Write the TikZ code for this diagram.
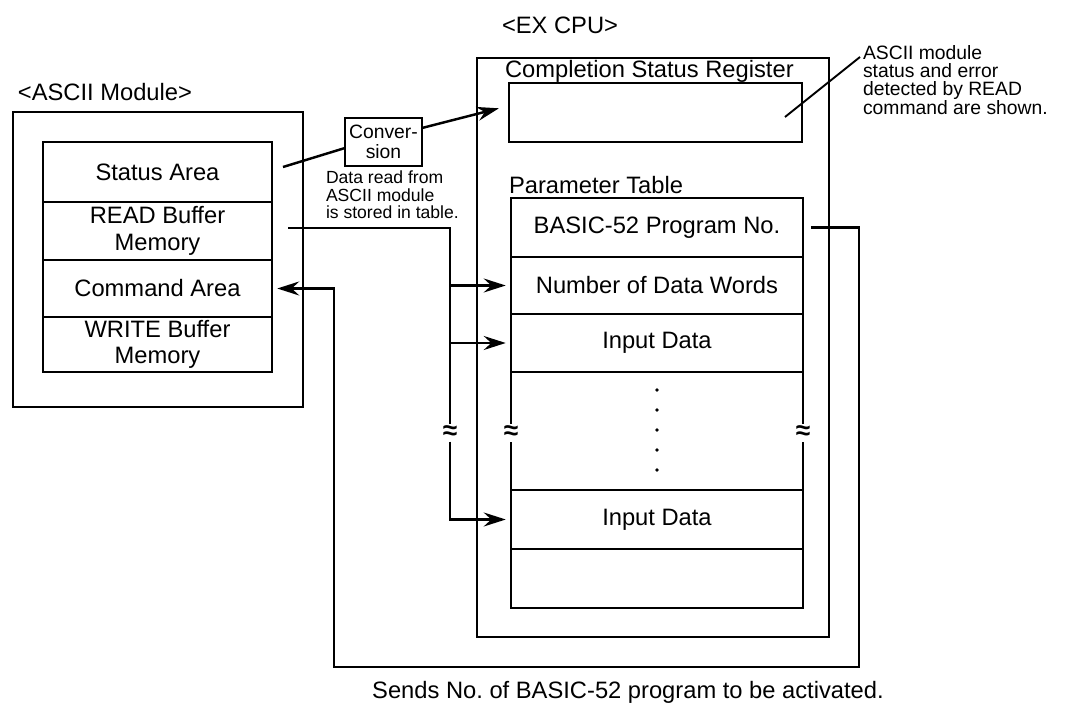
\documentclass[tikz,border=0pt]{standalone}
\usepackage{fontspec}
\setmainfont{Liberation Sans}
\usetikzlibrary{arrows.meta, positioning}
\frenchspacing

\begin{document}
\begin{tikzpicture}[
  x=0.02cm, y=-0.02cm,
  font=\fontsize{13.5}{15}\selectfont,
  every node/.style={inner sep=0pt, outer sep=0pt},
  frame/.style={draw, line width=1.5pt, anchor=north west},
  cell/.style={draw, line width=1.4pt, anchor=north west, align=center},
  conn/.style={line width=1.4pt},
  arr/.style={conn, shorten >=3pt, -{Stealth[length=4.4mm, width=2.8mm, inset=1.5mm]}},
  wave/.style={fill=white, inner sep=1pt, font=\bfseries\fontsize{15}{15}\selectfont},
  note/.style={align=left, anchor=north west},
]
\useasboundingbox (0,0) rectangle (1070,709);

% Titles
\node (asciiT) at (105,92) {<ASCII Module>};
\node (cpuT) at (560,25) {<EX CPU>};

% ASCII module
\node[frame, minimum width=5.8cm, minimum height=5.9cm] (ascii) at (13,112) {};
\foreach \name/\y/\h/\txt in {
  stat/142/1.2/Status Area,
  rbuf/202/1.16/{READ Buffer\\Memory},
  cmd/260/1.14/Command Area,
  wbuf/317/1.1/{WRITE Buffer\\Memory}%
}{
  \node[cell, minimum width=4.58cm, minimum height=\h cm] (\name) at (43,\y) {\txt};
}

% EX CPU
\node[frame, minimum width=7.04cm, minimum height=11.58cm] (cpu) at (477,58) {};
\node[anchor=west] (csrT) at (505,71) {Completion Status Register};
\node[cell, minimum width=5.86cm, minimum height=1.18cm] (csr) at (509,83) {};
\node[anchor=west] (parT) at (509,185) {Parameter Table};
\foreach \name/\y/\h/\txt in {
  bno/198/1.18/BASIC-52 Program No.,
  nwd/257/1.14/Number of Data Words,
  in1/314/1.16/Input Data,
  dots/372/2.36/{},
  in2/490/1.18/Input Data,
  blank/549/1.18/{}%
}{
  \node[cell, minimum width=5.84cm, minimum height=\h cm] (\name) at (511,\y) {\txt};
}
\foreach \d in {390,410,...,470}
  \fill (657,\d) circle (1.1pt);

% Conversion
\node[draw, line width=1.4pt, minimum width=1.54cm, minimum height=0.96cm, align=center,
      font=\fontsize{11}{11}\selectfont] (conv) at (383.5,142) {Conver-\\sion};
\node[note, font=\fontsize{10}{10}\selectfont] (convT) at (326,171)
  {Data read from\\ASCII module\\is stored in table.};
\node[note, font=\fontsize{11}{10.5}\selectfont] (errT) at (863,45)
  {ASCII module\\status and error\\detected by READ\\command are shown.};
\node (sendT) at (628,692) {Sends No. of BASIC-52 program to be activated.};

% Connectors
\coordinate (s0) at (283,167);
\draw[conn] (s0) -- ([yshift=-0.12cm]conv.west);
\draw[arr] ([yshift=0.28cm]conv.east) -- ([xshift=-0.1cm, yshift=0.11cm]csr.west);
\coordinate (e0) at (785,117);
\draw[line width=1.1pt] (e0) -- ([xshift=-0.06cm, yshift=-0.24cm]errT.north west);

\node[wave] (w1) at (450,433) {≈};
\coordinate (r0) at (288,228);
\coordinate (bus) at (450,228);
\draw[conn] (r0) -- (bus) -- (w1);
\draw[arr] (w1) |- (in2.west);
\draw[arr] (bus |- nwd.west) -- (nwd.west);
\draw[arr] (bus |- in1.west) -- (in1.west);

\coordinate (lr) at (859,667);
\coordinate (ll) at (334,667);
\draw[arr] ([xshift=0.16cm]bno.east) -| (lr) -- (ll) |- (cmd.east);

\node[wave] (w2) at (511,433) {≈};
\node[wave] (w3) at (803,433) {≈};
\end{tikzpicture}
\end{document}
